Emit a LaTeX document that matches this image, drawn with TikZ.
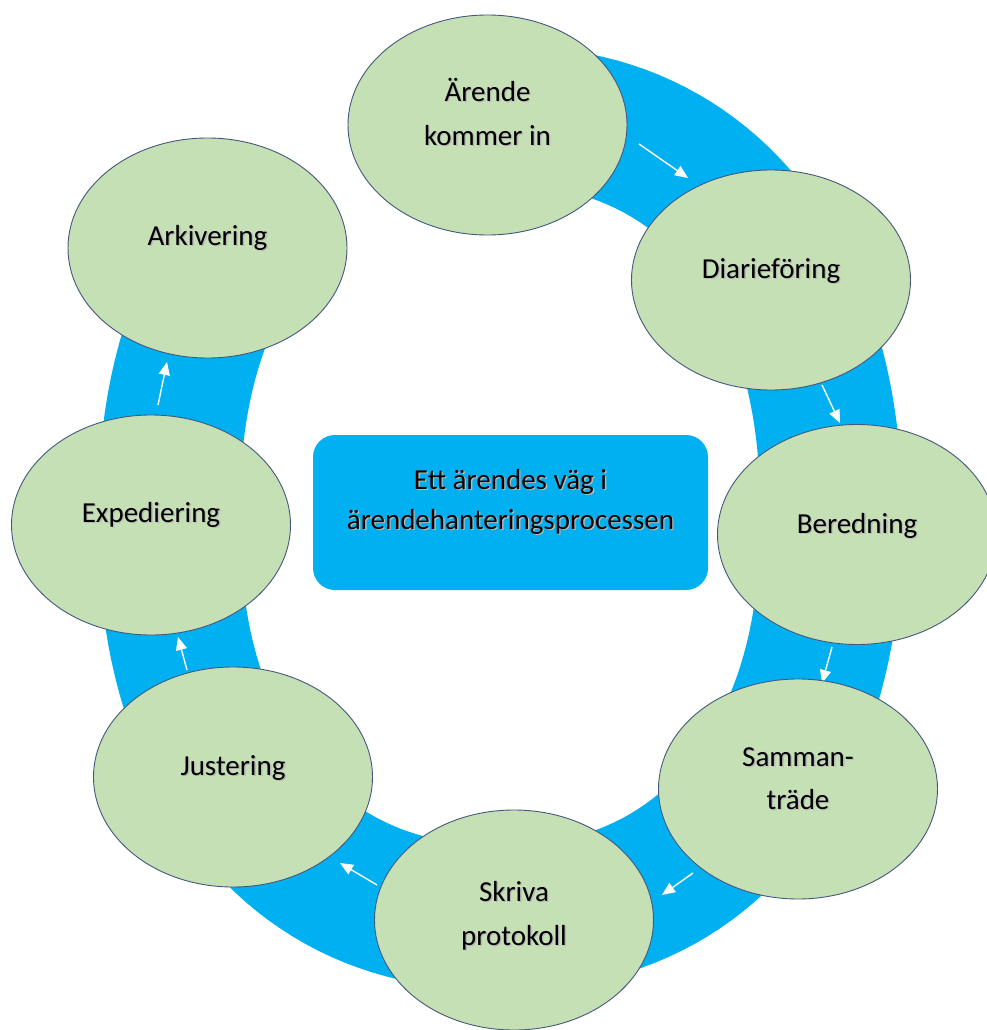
\documentclass[tikz,border=0pt]{standalone}
\usepackage{fontspec}
\setmainfont{Carlito}
\usetikzlibrary{shapes.geometric,arrows.meta}
\definecolor{ringblue}{HTML}{00B0F0}
\definecolor{leaf}{HTML}{C5E0B4}
\definecolor{rim}{HTML}{44587E}
% text with a soft drop shadow and a fixed strut
\newcommand\shd[1]{\rule[-7pt]{0pt}{31pt}\makebox[0pt][l]{\hspace{1.4pt}\raisebox{-1.4pt}{\textcolor{black!28}{#1}}}#1}
\begin{document}
\begin{tikzpicture}[x=1pt,y=-1pt,
  bubble/.style={ellipse, fill=leaf, draw=rim, line width=0.9pt,
    minimum width=279pt, minimum height=220pt, inner sep=0pt, outer sep=0pt},
  lbl/.style={align=center, text=black, inner sep=0pt,
    font=\fontsize{29}{44}\selectfont},
  hubbox/.style={fill=ringblue, rounded corners=22pt,
    minimum width=395pt, minimum height=155pt, inner sep=0pt},
  flow/.style={draw=white, line width=1.4pt,
    -{Triangle[length=13pt,width=11pt,fill=white]}}]
\useasboundingbox[fill=white] (0,0) rectangle (986,1030);

% the blue cycle band: open arc from the first step round to the last
\fill[ringblue]
  plot[domain=-89.5:218, samples=150]
    ({500+402*sign(cos(\x))*abs(cos(\x))^(0.909)},
     {518+472*sign(sin(\x))*abs(sin(\x))^(0.909)})
  -- plot[domain=218:-89.5, samples=150]
    ({500+260*sign(cos(\x))*abs(cos(\x))^(0.87)},
     {515+330*sign(sin(\x))*abs(sin(\x))^(0.87)}) -- cycle;

% centre box
\node[hubbox] (hub) at (510.5,512.5) {};
\node[lbl, font=\fontsize{29}{40}\selectfont] (hubtext) at ([yshift=12pt]hub.center)
  {\shd{Ett ärendes väg i}\\\shd{ärendehanteringsprocessen}};

% arrow end points along the band
\coordinate (a1s) at (639,144); \coordinate (a1e) at (688,178);
\coordinate (a2s) at (822,385); \coordinate (a2e) at (840,423);
\coordinate (a3s) at (832,647); \coordinate (a3e) at (822,683);
\coordinate (a4s) at (693,873); \coordinate (a4e) at (662,895);
\coordinate (a5s) at (377,885); \coordinate (a5e) at (340,863);
\coordinate (a6s) at (187,670); \coordinate (a6e) at (178,637);
\coordinate (a7s) at (158,405); \coordinate (a7e) at (167,362);
\foreach \i in {1,...,7} \draw[flow] (a\i s) -- (a\i e);

% process steps
\node[bubble] (s1) at (487.5,125) {};
\node[bubble] (s2) at (771,280) {};
\node[bubble] (s3) at (857,534.5) {};
\node[bubble] (s4) at (798,789) {};
\node[bubble] (s5) at (514,920) {};
\node[bubble] (s6) at (233,777) {};
\node[bubble] (s7) at (151,525) {};
\node[bubble] (s8) at (207.5,248) {};

\node[lbl] (t1) at ([yshift=10pt]s1.center) {\shd{Ärende}\\\shd{kommer in}};
\node[lbl] (t2) at ([yshift=10pt]s2.center) {\shd{Diarieföring}};
\node[lbl] (t3) at ([yshift=10pt]s3.center) {\shd{Beredning}};
\node[lbl, font=\fontsize{29}{43}\selectfont] (t4) at ([yshift=10pt]s4.center) {\shd{Samman-}\\\shd{träde}};
\node[lbl] (t5) at ([yshift=5pt]s5.center) {\shd{Skriva}\\\shd{protokoll}};
\node[lbl] (t6) at ([yshift=10pt]s6.center) {\shd{Justering}};
\node[lbl] (t7) at ([yshift=11pt]s7.center) {\shd{Expediering}};
\node[lbl] (t8) at ([yshift=11pt]s8.center) {\shd{Arkivering}};
\end{tikzpicture}
\end{document}
